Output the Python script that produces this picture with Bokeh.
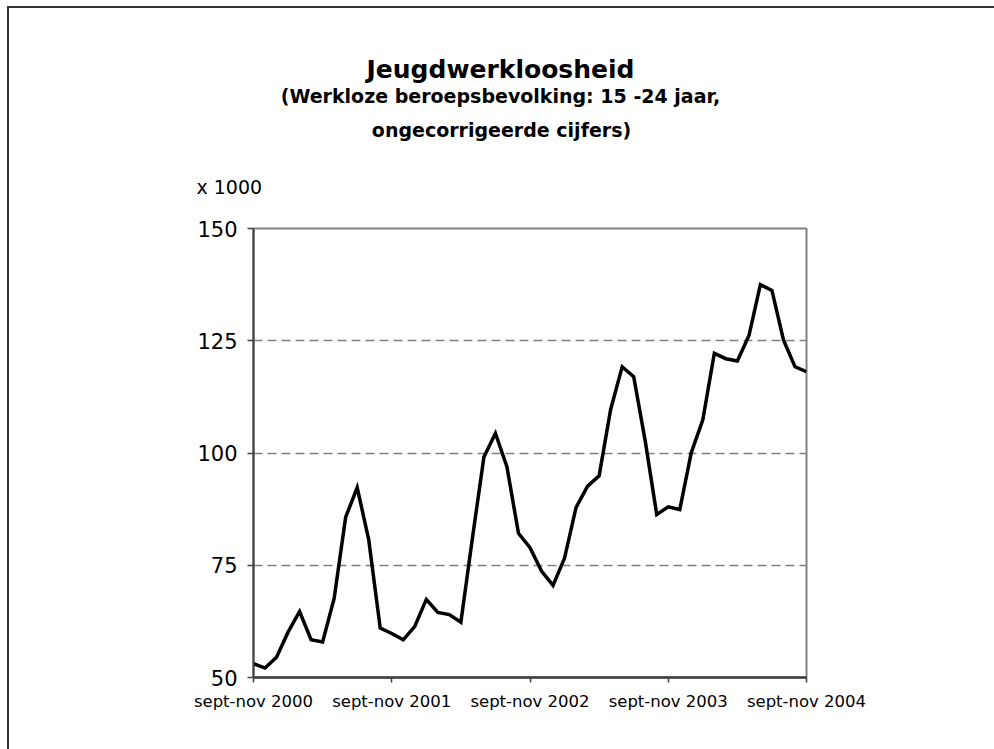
from bokeh.plotting import figure
from bokeh.models import Range1d, FixedTicker, Title
from bokeh.layouts import column
from bokeh.core.properties import value
from bokeh.embed import file_html
from bokeh.resources import INLINE

# ---- data -----------------------------------------------------------------
title_text = "Jeugdwerkloosheid"
subtitle_1 = "(Werkloze beroepsbevolking: 15 -24 jaar,"
subtitle_2 = "ongecorrigeerde cijfers)"
unit_text = "x 1000"

windows = ["sept-nov", "okt-dec", "nov-jan", "dec-feb", "jan-mrt", "feb-apr",
           "mrt-mei", "apr-jun", "mei-jul", "jun-aug", "jul-sep", "aug-okt"]
start_year = 2000
n_periods = 49
periods = []
for i in range(n_periods):
    w = windows[i % 12]
    year = start_year + (i + 8) // 12 if (i % 12) >= 2 else start_year + i // 12
    periods.append(f"{w} {year}")

unemployed = [53.1, 52.1, 54.5, 60.1, 64.7, 58.4, 57.9, 67.6, 85.7, 92.3,
              80.7, 61.0, 59.8, 58.4, 61.4, 67.4, 64.5, 64.0, 62.3, 81.0,
              99.1, 104.4, 96.9, 82.1, 78.9, 73.7, 70.5, 76.6, 87.9, 92.6,
              94.9, 109.7, 119.2, 117.0, 102.7, 86.3, 88.0, 87.4, 100.1, 107.4,
              122.2, 121.0, 120.5, 126.1, 137.5, 136.2, 125.2, 119.2, 118.1]

y_ticks = [50, 75, 100, 125, 150]
grid_ticks = [75, 100, 125]

x_idx = list(range(len(unemployed)))
tick_idx = [i for i, lab in enumerate(periods) if lab.startswith("sept-nov")]

# ---- layout (page pixels) --------------------------------------------------
OX, OY = 9, 8                 # canvas origin on page (after margin + border)
W, H = 985, 741               # total canvas size
HT = 134                      # height of the heading strip
F_LEFT, F_RIGHT, F_TOP, F_BOTTOM = 253, 806, 228, 677
HM = H - HT
main_top = OY + HT
UNIT_LEFT, UNIT_BASE = 196, 193

# heading strip: its frame is aligned with the chart frame horizontally,
# ranges are expressed in page pixels
top = figure(width=W, height=HT, output_backend="svg", toolbar_location=None,
             x_range=Range1d(F_LEFT, F_RIGHT), y_range=Range1d(OY + HT, OY),
             title=None, x_axis_type=None, y_axis_type=None,
             min_border_left=F_LEFT - OX, min_border_right=W - (F_RIGHT - OX),
             min_border_top=0, min_border_bottom=0)
top.grid.visible = False
top.outline_line_color = None
top.background_fill_color = "white"
top.border_fill_color = "white"

top.text(x=[500], y=[69], text=[title_text], text_align="center",
         text_baseline="alphabetic", text_font=value("DejaVu Sans"),
         text_font_style="bold", text_font_size="25px", text_color="black")
top.text(x=[500, 501], y=[95, 129], text=[subtitle_1, subtitle_2],
         text_align="center", text_baseline="alphabetic",
         text_font=value("DejaVu Sans"), text_font_style="bold",
         text_font_size="19px", text_color="black")

# main chart
p = figure(width=W, height=HM, output_backend="svg", toolbar_location=None,
           x_range=Range1d(0, len(unemployed) - 1), y_range=Range1d(50, 150),
           title=None,
           min_border_left=F_LEFT - OX, min_border_right=W - (F_RIGHT - OX),
           min_border_top=F_TOP - main_top,
           min_border_bottom=HM - (F_BOTTOM - main_top),
           background_fill_color="white", border_fill_color="white")

# unit caption above the value axis (title panel sits against the frame;
# its text bottom lies standoff/2 above the frame top)
unit_descent = 4.5
p.add_layout(Title(text=unit_text, align="left", offset=UNIT_LEFT - F_LEFT,
                   standoff=2 * (F_TOP - (UNIT_BASE + unit_descent)),
                   vertical_align="bottom",
                   text_font="DejaVu Sans", text_font_style="normal",
                   text_font_size="19px", text_color="black"), "above")

p.outline_line_color = "#808080"
p.outline_line_width = 2

p.xgrid.visible = False
p.ygrid.ticker = FixedTicker(ticks=grid_ticks)
p.ygrid.grid_line_color = "#808080"
p.ygrid.grid_line_width = 1.5
p.ygrid.grid_line_dash = "9 5"

p.yaxis.ticker = FixedTicker(ticks=y_ticks)
p.yaxis.axis_line_color = "#404040"
p.yaxis.axis_line_width = 2
p.yaxis.major_tick_line_color = "#404040"
p.yaxis.major_tick_line_width = 1.5
p.yaxis.major_tick_out = 6
p.yaxis.major_tick_in = 0
p.yaxis.minor_tick_line_color = None
p.yaxis.major_label_text_font = "DejaVu Sans"
p.yaxis.major_label_text_font_size = "21px"
p.yaxis.major_label_text_color = "black"
p.yaxis.major_label_standoff = 10

p.xaxis.ticker = FixedTicker(ticks=tick_idx)
p.xaxis.major_label_overrides = {i: periods[i] for i in tick_idx}
p.xaxis.axis_line_color = "#404040"
p.xaxis.axis_line_width = 2.5
p.xaxis.major_tick_line_color = "#404040"
p.xaxis.major_tick_line_width = 1.5
p.xaxis.major_tick_out = 5
p.xaxis.major_tick_in = 0
p.xaxis.minor_tick_line_color = None
p.xaxis.major_label_text_font = "DejaVu Sans"
p.xaxis.major_label_text_font_size = "16.5px"
p.xaxis.major_label_text_color = "black"
p.xaxis.major_label_standoff = 9

p.line(x_idx, unemployed, line_color="black", line_width=3.5, line_join="miter")

layout = column(top, p, spacing=0,
                styles={"margin-left": f"{OX - 2}px", "margin-top": f"{OY - 2}px",
                        "border-left": "2px solid #333333",
                        "border-top": "2px solid #333333"})

open("out.html", "w").write(file_html(layout, INLINE))
